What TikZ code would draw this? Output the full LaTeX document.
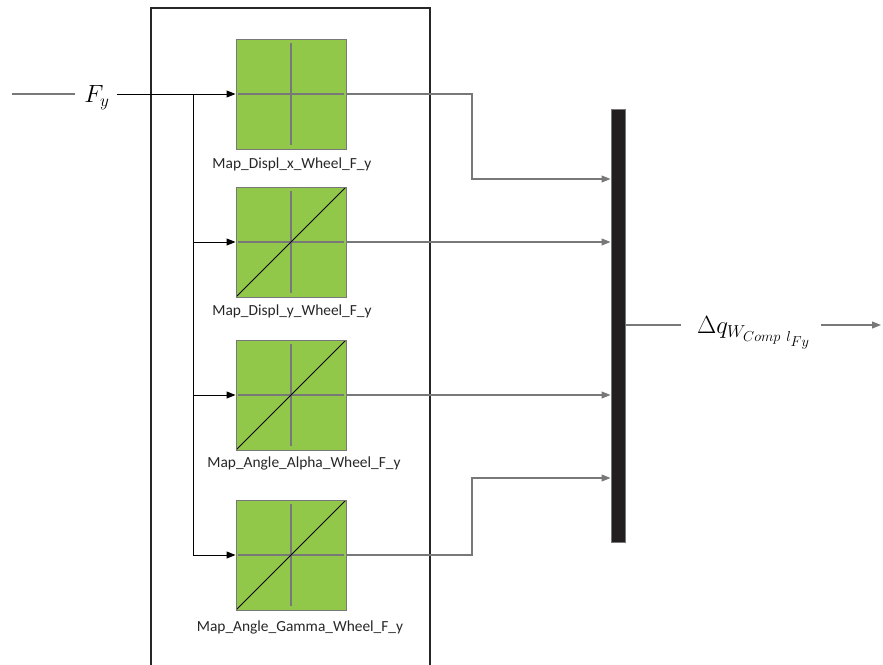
\documentclass[tikz,border=0pt]{standalone}
\usepackage{fontspec}
\setmainfont{Carlito}
\DeclareMathSizes{26}{26}{18}{15}
\usetikzlibrary{arrows.meta}
\definecolor{mapgreen}{RGB}{146,200,74}
\definecolor{wiregray}{RGB}{120,120,120}
\definecolor{barblack}{RGB}{35,31,32}
\tikzset{
  mapblock/.style={draw=wiregray, line width=1pt, fill=mapgreen,
    minimum width=110pt, minimum height=110pt, inner sep=0pt,
    path picture={
      \draw[wiregray, line width=1.4pt]
        ([yshift=-4pt]path picture bounding box.north) -- ([yshift=4pt]path picture bounding box.south)
        ([xshift=2pt]path picture bounding box.west) -- ([xshift=-2pt]path picture bounding box.east);
    }},
  linmap/.style={mapblock,
    path picture={
      \draw[wiregray, line width=1.4pt]
        ([yshift=-4pt]path picture bounding box.north) -- ([yshift=4pt]path picture bounding box.south)
        ([xshift=2pt]path picture bounding box.west) -- ([xshift=-2pt]path picture bounding box.east);
      \draw[black, line width=0.9pt]
        (path picture bounding box.south west) -- (path picture bounding box.north east);
    }},
  maplabel/.style={font=\fontsize{15.4}{17}\selectfont, text=black!85, inner sep=0pt},
  inwire/.style={black, line width=1pt, -{Triangle[length=9pt,width=7pt]}},
  outwire/.style={wiregray, line width=1.1pt, -{Triangle[length=9pt,width=7pt]}},
  plainwire/.style={wiregray, line width=1.1pt},
}
\begin{document}
\begin{tikzpicture}[x=1pt,y=-1pt]
\useasboundingbox (0,0) rectangle (883,664);

% enclosing subsystem frame (open at the bottom edge)
\draw[black!85, line width=1.2pt] (151,670) -- (151,8) -- (430,8) -- (430,670);

% lookup-table blocks
\node[mapblock] (b1) at (291,94) {};
\node[linmap]   (b2) at (291,242) {};
\node[linmap]   (b3) at (291,395) {};
\node[linmap]   (b4) at (291,555) {};

\node[maplabel] (l1) at (292,164) {Map\_Displ\_x\_Wheel\_F\_y};
\node[maplabel] (l2) at (292,311) {Map\_Displ\_y\_Wheel\_F\_y};
\node[maplabel] (l3) at (304,463) {Map\_Angle\_Alpha\_Wheel\_F\_y};
\node[maplabel] (l4) at (300,627) {Map\_Angle\_Gamma\_Wheel\_F\_y};

% mux bar
\node[fill=barblack, draw=wiregray, line width=0.5pt, minimum width=14.5pt,
      minimum height=433pt, inner sep=0pt] (bar) at (618,325.5) {};

% input signal
\coordinate (inL) at (12,94);
\node[font=\fontsize{26}{30}\selectfont, inner sep=0pt] (fy) at (97,98) {$F_y$};
\draw[plainwire] (inL) -- (75,94);
\coordinate (j1) at (193,94);
\coordinate (j2) at (193,242);
\coordinate (j3) at (193,395);
\coordinate (j4) at (193,555);
\draw[inwire] (117,94) -- (b1.west);
\draw[black, line width=1pt] (j1) -- (j4);
\draw[inwire] (j2) -- (b2.west);
\draw[inwire] (j3) -- (b3.west);
\draw[inwire] (j4) -- (b4.west);

% outputs into the mux bar
\coordinate (o1) at (472,94);
\coordinate (o1b) at (472,179);
\coordinate (o4) at (472,555);
\coordinate (o4b) at (472,478);
\draw[outwire] (b1.east) -- (o1) -- (o1b) -- (bar.west |- o1b);
\draw[outwire] (b2.east) -- (bar.west |- b2.east);
\draw[outwire] (b3.east) -- (bar.west |- b3.east);
\draw[outwire] (b4.east) -- (o4) -- (o4b) -- (bar.west |- o4b);

% output signal
\node[font=\fontsize{26}{30}\selectfont, inner sep=0pt, anchor=west] (dq) at (697,333)
  {$\Delta q_{W_{Comp\ l_{Fy}}}$};
\coordinate (outR) at (881,325);
\draw[plainwire] (bar.east |- 0,325) -- (681,325);
\draw[outwire] (821,325) -- (outR);
\end{tikzpicture}
\end{document}
